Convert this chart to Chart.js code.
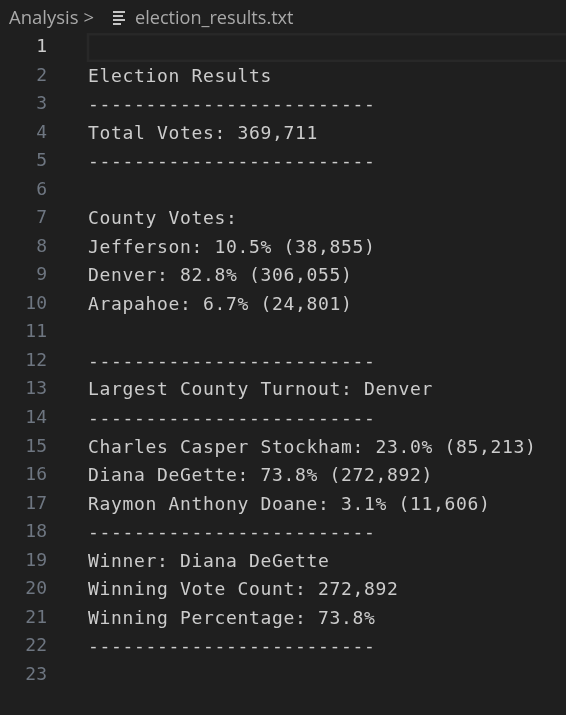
<!DOCTYPE html>
<html>
<head>
<meta charset="utf-8">
<script src="https://cdn.jsdelivr.net/npm/chart.js@4.4.1/dist/chart.umd.min.js"></script>
<style>
  html, body { margin:0; padding:0; background:#1f1f1f; width:566px; height:715px; overflow:hidden; }
  #wrap { position:relative; width:566px; height:715px; }
  canvas { position:absolute; left:0; top:0; }
  #crumb { position:absolute; left:9px; top:3px; height:28px; font-family:"Open Sans", "Noto Sans", sans-serif; font-size:18.5px; color:#a9a9a9; white-space:nowrap; line-height:28px; }
  #crumb .chev { display:inline-block; margin-left:5px; }
  #icon { position:absolute; left:113px; top:10px; width:13px; height:14px; }
  #icon i { position:absolute; left:0; height:2px; background:#c5c5c5; }
  #file { position:absolute; left:135px; top:3px; font-family:"Open Sans", "Noto Sans", sans-serif; font-size:18.1px; color:#a9a9a9; line-height:28px; white-space:nowrap; }
</style>
</head>
<body>
<div id="wrap">
  <canvas id="c" width="566" height="715"></canvas>
  <div id="crumb">Analysis<span class="chev">&gt;</span></div>
  <div id="icon"><i style="top:1px;width:12px"></i><i style="top:5px;width:10px"></i><i style="top:9px;width:12px"></i><i style="top:13px;width:8px"></i></div>
  <div id="file">election_results.txt</div>
</div>
<script>
// ---- data ----
const reportTitle = 'Election Results';
const dividerText = '-------------------------';
const totalVotes = 369711;
const countyNames = ['Jefferson', 'Denver', 'Arapahoe'];
const countyPercents = [10.5, 82.8, 6.7];
const countyVotes = [38855, 306055, 24801];
const largestCounty = 'Denver';
const candidateNames = ['Charles Casper Stockham', 'Diana DeGette', 'Raymon Anthony Doane'];
const candidatePercents = [23.0, 73.8, 3.1];
const candidateVotes = [85213, 272892, 11606];
const winnerName = 'Diana DeGette';
const winningCount = 272892;
const winningPercent = 73.8;
const lineNumbers = ['1','2','3','4','5','6','7','8','9','10','11','12','13','14','15','16','17','18','19','20','21','22','23'];

// ---- build the file's text lines from the data ----
const fmt = n => n.toLocaleString('en-US');
const pct = p => p.toFixed(1) + '%';
const fileLines = [
  '',
  reportTitle,
  dividerText,
  'Total Votes: ' + fmt(totalVotes),
  dividerText,
  '',
  'County Votes:',
  ...countyNames.map((n, i) => n + ': ' + pct(countyPercents[i]) + ' (' + fmt(countyVotes[i]) + ')'),
  '',
  dividerText,
  'Largest County Turnout: ' + largestCounty,
  dividerText,
  ...candidateNames.map((n, i) => n + ': ' + pct(candidatePercents[i]) + ' (' + fmt(candidateVotes[i]) + ')'),
  dividerText,
  'Winner: ' + winnerName,
  'Winning Vote Count: ' + fmt(winningCount),
  'Winning Percentage: ' + pct(winningPercent),
  dividerText,
  ''
];

const MONO = '"DejaVu Sans Mono", "Liberation Mono", monospace';
const activeLine = 0;

const editorPlugin = {
  id: 'editorText',
  beforeDatasetsDraw(chart) {
    const ctx = chart.ctx;
    const el = chart.getDatasetMeta(0).data[activeLine];
    if (!el) return;
    ctx.save();
    ctx.strokeStyle = '#282828';
    ctx.lineWidth = 2.5;
    ctx.strokeRect(chart.chartArea.left, el.y - 13.3, chart.width, 26.6);
    ctx.restore();
  },
  afterDatasetsDraw(chart) {
    const ctx = chart.ctx;
    const meta = chart.getDatasetMeta(0);
    ctx.save();
    ctx.font = '18px ' + MONO;
    if ('letterSpacing' in ctx) ctx.letterSpacing = '0.66px';
    ctx.fillStyle = '#cccccc';
    ctx.textBaseline = 'middle';
    ctx.textAlign = 'left';
    meta.data.forEach((pt, i) => {
      const t = fileLines[i];
      if (t) ctx.fillText(t, pt.x, pt.y + 1);
    });
    ctx.restore();
  }
};

new Chart(document.getElementById('c'), {
  type: 'scatter',
  data: {
    labels: lineNumbers,
    datasets: [{
      data: lineNumbers.map(l => ({ x: 0, y: l })),
      pointRadius: 0,
      pointHoverRadius: 0
    }]
  },
  options: {
    responsive: false,
    animation: false,
    events: [],
    layout: { padding: { top: 33.3, bottom: 25.7, left: 0, right: 0 } },
    plugins: { legend: { display: false }, tooltip: { enabled: false } },
    scales: {
      x: { type: 'linear', min: 0, max: 1, display: false },
      y: {
        type: 'category',
        labels: lineNumbers,
        offset: true,
        grid: { display: false, drawTicks: false },
        border: { display: false },
        afterFit(scale) { scale.width = 88; scale.paddingTop = 0; scale.paddingBottom = 0; },
        ticks: {
          padding: 41,
          autoSkip: false,
          font: { family: MONO, size: 18 },
          color: ctx => ctx.index === activeLine ? '#cccccc' : '#6e7681'
        }
      }
    }
  },
  plugins: [editorPlugin]
});
</script>
</body>
</html>
